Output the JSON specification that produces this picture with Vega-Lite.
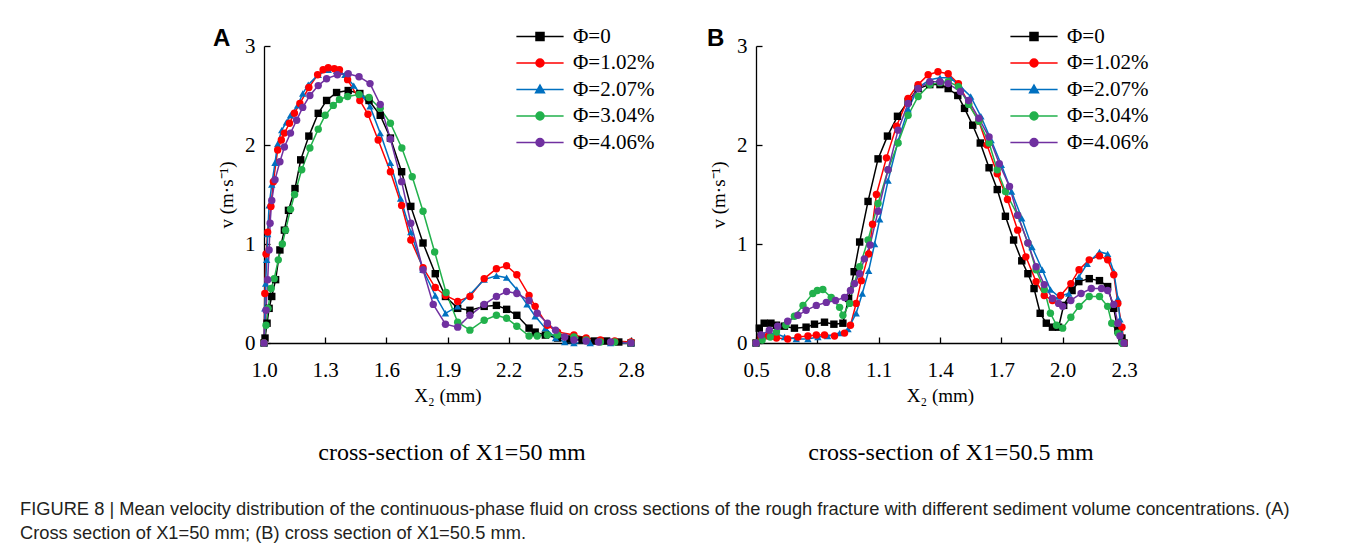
{
"$schema": "https://vega.github.io/schema/vega-lite/v6.json",
"background": "white",
"padding": {"left": 20, "top": 26, "right": 5, "bottom": 5},
"spacing": 52,
"title": {"text": ["FIGURE 8 | Mean velocity distribution of the continuous-phase fluid on cross sections of the rough fracture with different sediment volume concentrations. (A)", "Cross section of X1=50 mm; (B) cross section of X1=50.5 mm."], "orient": "bottom", "anchor": "start", "frame": "bounds", "font": "Liberation Sans", "fontSize": 18.3, "fontWeight": "normal", "color": "#231f20", "lineHeight": 24, "offset": 36, "dx": -193},
"resolve": {"scale": {"color": "independent", "shape": "independent"}, "legend": {"color": "independent", "shape": "independent"}},
"hconcat": [
{
 "title": {"text": "cross-section of X1=50 mm", "orient": "bottom", "anchor": "middle", "frame": "bounds", "font": "Liberation Serif", "fontSize": 24, "fontWeight": "normal", "color": "black", "offset": 36, "dx": 18},
 "vconcat": [{
  "width": 367, "height": 297,
  "title": {"text": "A", "anchor": "start", "frame": "group", "font": "Liberation Sans", "fontSize": 24, "fontWeight": "bold", "color": "black", "dx": -51, "offset": 0, "dy": 16},
  "data": {"name": "A"},
  "encoding": {
   "x": {"field": "x", "type": "quantitative", "scale": {"domain": [1.0, 2.8], "nice": false, "zero": false}, "axis": {"values": [1.0, 1.3, 1.6, 1.9, 2.2, 2.5, 2.8], "format": ".1f", "title": "X₂ (mm)"}},
   "y": {"field": "y", "type": "quantitative", "scale": {"domain": [0, 3], "nice": false}, "axis": {"values": [0, 1, 2, 3], "format": "d", "title": "v (m·s⁻¹)"}},
   "color": {"field": "s", "type": "nominal", "scale": {"domain": ["Φ=0", "Φ=1.02%", "Φ=2.07%", "Φ=3.04%", "Φ=4.06%"], "range": ["#000000", "#ff0000", "#0070c0", "#22b14c", "#7030a0"]},
    "legend": {"orient": "none", "legendX": 252, "legendY": -20, "title": null, "labelFont": "Liberation Serif", "labelFontSize": 21, "labelColor": "black", "symbolSize": 64, "symbolOffset": 13.5, "labelOffset": 22.5, "rowPadding": 4.5, "padding": 0, "symbolStrokeWidth": 1.5, "symbolOpacity": 1}}
  },
  "layer": [
   {"mark": {"type": "line", "strokeWidth": 1.5}},
   {"transform": [{"filter": "datum.s === 'Φ=0'"}], "mark": {"type": "point", "shape": "square", "filled": true, "opacity": 1, "size": 55}},
   {"transform": [{"filter": "datum.s === 'Φ=2.07%'"}], "mark": {"type": "point", "shape": "triangle-up", "filled": true, "opacity": 1, "size": 55}},
   {"transform": [{"filter": "datum.s !== 'Φ=0' && datum.s !== 'Φ=2.07%'"}], "mark": {"type": "point", "shape": "circle", "filled": true, "opacity": 1, "size": 55}},
   {"transform": [{"filter": "false"}], "mark": {"type": "point", "filled": true, "opacity": 1, "size": 55},
    "encoding": {
     "shape": {"field": "s", "type": "nominal", "scale": {"domain": ["Φ=0", "Φ=1.02%", "Φ=2.07%", "Φ=3.04%", "Φ=4.06%"], "range": ["M-5.9,0H5.9M-1,-1H1V1H-1ZM-1,-0.5H1M-1,0.5H1", "M-5.9,0H5.9M1,0A1,1 0 1,1 -1,0A1,1 0 1,1 1,0ZM-0.8,-0.5H0.8M-0.8,0.5H0.8", "M-5.9,0H5.9M0,-1.1L1.1,0.8L-1.1,0.8ZM-0.55,-0.1H0.55M-0.85,0.4H0.85", "M-5.9,0H5.9M1,0A1,1 0 1,1 -1,0A1,1 0 1,1 1,0ZM-0.8,-0.5H0.8M-0.8,0.5H0.8", "M-5.9,0H5.9M1,0A1,1 0 1,1 -1,0A1,1 0 1,1 1,0ZM-0.8,-0.5H0.8M-0.8,0.5H0.8"]},
      "legend": {"orient": "none", "legendX": 252, "legendY": -20, "title": null, "labelFont": "Liberation Serif", "labelFontSize": 21, "labelColor": "black", "symbolSize": 64, "symbolOffset": 13.5, "labelOffset": 22.5, "rowPadding": 4.5, "padding": 0, "symbolStrokeWidth": 1.5, "symbolOpacity": 1}}
    }}
  ]
 }]
},
{
 "title": {"text": "cross-section of X1=50.5 mm", "orient": "bottom", "anchor": "middle", "frame": "bounds", "font": "Liberation Serif", "fontSize": 24, "fontWeight": "normal", "color": "black", "offset": 36, "dx": 23},
 "vconcat": [{
  "width": 368, "height": 297,
  "title": {"text": "B", "anchor": "start", "frame": "group", "font": "Liberation Sans", "fontSize": 24, "fontWeight": "bold", "color": "black", "dx": -49, "offset": 0, "dy": 16},
  "data": {"name": "B"},
  "encoding": {
   "x": {"field": "x", "type": "quantitative", "scale": {"domain": [0.5, 2.3], "nice": false, "zero": false}, "axis": {"values": [0.5, 0.8, 1.1, 1.4, 1.7, 2.0, 2.3], "format": ".1f", "title": "X₂ (mm)"}},
   "y": {"field": "y", "type": "quantitative", "scale": {"domain": [0, 3], "nice": false}, "axis": {"values": [0, 1, 2, 3], "format": "d", "title": "v (m·s⁻¹)"}},
   "color": {"field": "s", "type": "nominal", "scale": {"domain": ["Φ=0", "Φ=1.02%", "Φ=2.07%", "Φ=3.04%", "Φ=4.06%"], "range": ["#000000", "#ff0000", "#0070c0", "#22b14c", "#7030a0"]},
    "legend": {"orient": "none", "legendX": 254, "legendY": -20, "title": null, "labelFont": "Liberation Serif", "labelFontSize": 21, "labelColor": "black", "symbolSize": 64, "symbolOffset": 13.5, "labelOffset": 22.5, "rowPadding": 4.5, "padding": 0, "symbolStrokeWidth": 1.5, "symbolOpacity": 1}}
  },
  "layer": [
   {"mark": {"type": "line", "strokeWidth": 1.5}},
   {"transform": [{"filter": "datum.s === 'Φ=0'"}], "mark": {"type": "point", "shape": "square", "filled": true, "opacity": 1, "size": 55}},
   {"transform": [{"filter": "datum.s === 'Φ=2.07%'"}], "mark": {"type": "point", "shape": "triangle-up", "filled": true, "opacity": 1, "size": 55}},
   {"transform": [{"filter": "datum.s !== 'Φ=0' && datum.s !== 'Φ=2.07%'"}], "mark": {"type": "point", "shape": "circle", "filled": true, "opacity": 1, "size": 55}},
   {"transform": [{"filter": "false"}], "mark": {"type": "point", "filled": true, "opacity": 1, "size": 55},
    "encoding": {
     "shape": {"field": "s", "type": "nominal", "scale": {"domain": ["Φ=0", "Φ=1.02%", "Φ=2.07%", "Φ=3.04%", "Φ=4.06%"], "range": ["M-5.9,0H5.9M-1,-1H1V1H-1ZM-1,-0.5H1M-1,0.5H1", "M-5.9,0H5.9M1,0A1,1 0 1,1 -1,0A1,1 0 1,1 1,0ZM-0.8,-0.5H0.8M-0.8,0.5H0.8", "M-5.9,0H5.9M0,-1.1L1.1,0.8L-1.1,0.8ZM-0.55,-0.1H0.55M-0.85,0.4H0.85", "M-5.9,0H5.9M1,0A1,1 0 1,1 -1,0A1,1 0 1,1 1,0ZM-0.8,-0.5H0.8M-0.8,0.5H0.8", "M-5.9,0H5.9M1,0A1,1 0 1,1 -1,0A1,1 0 1,1 1,0ZM-0.8,-0.5H0.8M-0.8,0.5H0.8"]},
      "legend": {"orient": "none", "legendX": 254, "legendY": -20, "title": null, "labelFont": "Liberation Serif", "labelFontSize": 21, "labelColor": "black", "symbolSize": 64, "symbolOffset": 13.5, "labelOffset": 22.5, "rowPadding": 4.5, "padding": 0, "symbolStrokeWidth": 1.5, "symbolOpacity": 1}}
    }}
  ]
 }]
}
],
"config": {
 "view": {"stroke": null},
 "axis": {"labelFont": "Liberation Serif", "labelFontSize": 21, "labelColor": "black", "labelFlush": false, "titleFont": "Liberation Serif", "titleFontSize": 19, "titleFontWeight": "normal", "titleColor": "black", "domainColor": "black", "tickColor": "black", "domainWidth": 1.3, "tickWidth": 1.3, "grid": false, "tickSize": -6},
 "axisX": {"labelPadding": 22, "titlePadding": 6},
 "axisY": {"labelPadding": 15, "titlePadding": 8}
},
"datasets": {
"A": [
{"s":"Φ=0","x":1.0,"y":0},{"s":"Φ=0","x":1.005,"y":0.05},{"s":"Φ=0","x":1.015,"y":0.2},{"s":"Φ=0","x":1.025,"y":0.35},{"s":"Φ=0","x":1.038,"y":0.47},{"s":"Φ=0","x":1.057,"y":0.64},{"s":"Φ=0","x":1.078,"y":0.94},{"s":"Φ=0","x":1.1,"y":1.14},{"s":"Φ=0","x":1.12,"y":1.34},{"s":"Φ=0","x":1.152,"y":1.56},{"s":"Φ=0","x":1.18,"y":1.85},{"s":"Φ=0","x":1.22,"y":2.09},{"s":"Φ=0","x":1.266,"y":2.32},{"s":"Φ=0","x":1.307,"y":2.45},{"s":"Φ=0","x":1.356,"y":2.53},{"s":"Φ=0","x":1.413,"y":2.55},{"s":"Φ=0","x":1.47,"y":2.52},{"s":"Φ=0","x":1.515,"y":2.45},{"s":"Φ=0","x":1.57,"y":2.3},{"s":"Φ=0","x":1.62,"y":2.07},{"s":"Φ=0","x":1.675,"y":1.73},{"s":"Φ=0","x":1.72,"y":1.38},{"s":"Φ=0","x":1.78,"y":1.01},{"s":"Φ=0","x":1.84,"y":0.7},{"s":"Φ=0","x":1.89,"y":0.47},{"s":"Φ=0","x":1.95,"y":0.35},{"s":"Φ=0","x":2.01,"y":0.33},{"s":"Φ=0","x":2.08,"y":0.37},{"s":"Φ=0","x":2.14,"y":0.38},{"s":"Φ=0","x":2.19,"y":0.34},{"s":"Φ=0","x":2.24,"y":0.28},{"s":"Φ=0","x":2.3,"y":0.15},{"s":"Φ=0","x":2.33,"y":0.11},{"s":"Φ=0","x":2.38,"y":0.08},{"s":"Φ=0","x":2.44,"y":0.05},{"s":"Φ=0","x":2.5,"y":0.04},{"s":"Φ=0","x":2.56,"y":0.03},{"s":"Φ=0","x":2.62,"y":0.02},{"s":"Φ=0","x":2.68,"y":0.02},{"s":"Φ=0","x":2.74,"y":0.01},{"s":"Φ=0","x":2.8,"y":0},
{"s":"Φ=1.02%","x":1.0,"y":0},{"s":"Φ=1.02%","x":1.004,"y":0.5},{"s":"Φ=1.02%","x":1.01,"y":0.9},{"s":"Φ=1.02%","x":1.018,"y":1.12},{"s":"Φ=1.02%","x":1.034,"y":1.38},{"s":"Φ=1.02%","x":1.046,"y":1.63},{"s":"Φ=1.02%","x":1.067,"y":1.95},{"s":"Φ=1.02%","x":1.085,"y":2.05},{"s":"Φ=1.02%","x":1.1,"y":2.12},{"s":"Φ=1.02%","x":1.125,"y":2.22},{"s":"Φ=1.02%","x":1.149,"y":2.32},{"s":"Φ=1.02%","x":1.176,"y":2.42},{"s":"Φ=1.02%","x":1.22,"y":2.58},{"s":"Φ=1.02%","x":1.263,"y":2.71},{"s":"Φ=1.02%","x":1.29,"y":2.76},{"s":"Φ=1.02%","x":1.315,"y":2.78},{"s":"Φ=1.02%","x":1.345,"y":2.77},{"s":"Φ=1.02%","x":1.37,"y":2.76},{"s":"Φ=1.02%","x":1.41,"y":2.66},{"s":"Φ=1.02%","x":1.47,"y":2.45},{"s":"Φ=1.02%","x":1.51,"y":2.31},{"s":"Φ=1.02%","x":1.56,"y":2.05},{"s":"Φ=1.02%","x":1.62,"y":1.73},{"s":"Φ=1.02%","x":1.675,"y":1.39},{"s":"Φ=1.02%","x":1.72,"y":1.04},{"s":"Φ=1.02%","x":1.78,"y":0.76},{"s":"Φ=1.02%","x":1.84,"y":0.56},{"s":"Φ=1.02%","x":1.89,"y":0.48},{"s":"Φ=1.02%","x":1.95,"y":0.42},{"s":"Φ=1.02%","x":2.01,"y":0.47},{"s":"Φ=1.02%","x":2.08,"y":0.65},{"s":"Φ=1.02%","x":2.14,"y":0.75},{"s":"Φ=1.02%","x":2.19,"y":0.78},{"s":"Φ=1.02%","x":2.24,"y":0.69},{"s":"Φ=1.02%","x":2.3,"y":0.48},{"s":"Φ=1.02%","x":2.33,"y":0.37},{"s":"Φ=1.02%","x":2.39,"y":0.18},{"s":"Φ=1.02%","x":2.44,"y":0.11},{"s":"Φ=1.02%","x":2.52,"y":0.08},{"s":"Φ=1.02%","x":2.58,"y":0.05},{"s":"Φ=1.02%","x":2.65,"y":0.03},{"s":"Φ=1.02%","x":2.72,"y":0.02},{"s":"Φ=1.02%","x":2.8,"y":0.01},
{"s":"Φ=2.07%","x":1.0,"y":0},{"s":"Φ=2.07%","x":1.004,"y":0.35},{"s":"Φ=2.07%","x":1.008,"y":0.6},{"s":"Φ=2.07%","x":1.013,"y":0.84},{"s":"Φ=2.07%","x":1.018,"y":1.1},{"s":"Φ=2.07%","x":1.025,"y":1.39},{"s":"Φ=2.07%","x":1.038,"y":1.6},{"s":"Φ=2.07%","x":1.054,"y":1.82},{"s":"Φ=2.07%","x":1.067,"y":2.01},{"s":"Φ=2.07%","x":1.087,"y":2.15},{"s":"Φ=2.07%","x":1.11,"y":2.23},{"s":"Φ=2.07%","x":1.13,"y":2.3},{"s":"Φ=2.07%","x":1.165,"y":2.4},{"s":"Φ=2.07%","x":1.19,"y":2.52},{"s":"Φ=2.07%","x":1.217,"y":2.61},{"s":"Φ=2.07%","x":1.266,"y":2.71},{"s":"Φ=2.07%","x":1.315,"y":2.76},{"s":"Φ=2.07%","x":1.356,"y":2.75},{"s":"Φ=2.07%","x":1.397,"y":2.71},{"s":"Φ=2.07%","x":1.44,"y":2.6},{"s":"Φ=2.07%","x":1.48,"y":2.5},{"s":"Φ=2.07%","x":1.52,"y":2.39},{"s":"Φ=2.07%","x":1.57,"y":2.12},{"s":"Φ=2.07%","x":1.62,"y":1.82},{"s":"Φ=2.07%","x":1.67,"y":1.46},{"s":"Φ=2.07%","x":1.72,"y":1.12},{"s":"Φ=2.07%","x":1.78,"y":0.74},{"s":"Φ=2.07%","x":1.84,"y":0.48},{"s":"Φ=2.07%","x":1.89,"y":0.3},{"s":"Φ=2.07%","x":1.95,"y":0.37},{"s":"Φ=2.07%","x":2.01,"y":0.49},{"s":"Φ=2.07%","x":2.08,"y":0.64},{"s":"Φ=2.07%","x":2.14,"y":0.68},{"s":"Φ=2.07%","x":2.19,"y":0.66},{"s":"Φ=2.07%","x":2.24,"y":0.54},{"s":"Φ=2.07%","x":2.29,"y":0.39},{"s":"Φ=2.07%","x":2.33,"y":0.27},{"s":"Φ=2.07%","x":2.38,"y":0.15},{"s":"Φ=2.07%","x":2.43,"y":0.05},{"s":"Φ=2.07%","x":2.475,"y":0.01},{"s":"Φ=2.07%","x":2.52,"y":0},{"s":"Φ=2.07%","x":2.6,"y":0},{"s":"Φ=2.07%","x":2.7,"y":0},{"s":"Φ=2.07%","x":2.8,"y":0},
{"s":"Φ=3.04%","x":1.0,"y":0},{"s":"Φ=3.04%","x":1.01,"y":0.18},{"s":"Φ=3.04%","x":1.02,"y":0.35},{"s":"Φ=3.04%","x":1.035,"y":0.55},{"s":"Φ=3.04%","x":1.05,"y":0.65},{"s":"Φ=3.04%","x":1.07,"y":0.84},{"s":"Φ=3.04%","x":1.09,"y":1.0},{"s":"Φ=3.04%","x":1.106,"y":1.14},{"s":"Φ=3.04%","x":1.13,"y":1.35},{"s":"Φ=3.04%","x":1.15,"y":1.5},{"s":"Φ=3.04%","x":1.185,"y":1.75},{"s":"Φ=3.04%","x":1.225,"y":1.97},{"s":"Φ=3.04%","x":1.266,"y":2.16},{"s":"Φ=3.04%","x":1.3,"y":2.3},{"s":"Φ=3.04%","x":1.34,"y":2.4},{"s":"Φ=3.04%","x":1.37,"y":2.46},{"s":"Φ=3.04%","x":1.41,"y":2.49},{"s":"Φ=3.04%","x":1.466,"y":2.51},{"s":"Φ=3.04%","x":1.515,"y":2.48},{"s":"Φ=3.04%","x":1.57,"y":2.37},{"s":"Φ=3.04%","x":1.62,"y":2.22},{"s":"Φ=3.04%","x":1.676,"y":1.97},{"s":"Φ=3.04%","x":1.727,"y":1.68},{"s":"Φ=3.04%","x":1.78,"y":1.33},{"s":"Φ=3.04%","x":1.837,"y":0.92},{"s":"Φ=3.04%","x":1.893,"y":0.51},{"s":"Φ=3.04%","x":1.95,"y":0.21},{"s":"Φ=3.04%","x":2.01,"y":0.13},{"s":"Φ=3.04%","x":2.08,"y":0.23},{"s":"Φ=3.04%","x":2.14,"y":0.28},{"s":"Φ=3.04%","x":2.19,"y":0.25},{"s":"Φ=3.04%","x":2.24,"y":0.17},{"s":"Φ=3.04%","x":2.3,"y":0.07},{"s":"Φ=3.04%","x":2.34,"y":0.07},{"s":"Φ=3.04%","x":2.39,"y":0.08},{"s":"Φ=3.04%","x":2.44,"y":0.08},{"s":"Φ=3.04%","x":2.52,"y":0.06},{"s":"Φ=3.04%","x":2.58,"y":0.03},{"s":"Φ=3.04%","x":2.65,"y":0.01},{"s":"Φ=3.04%","x":2.72,"y":0.01},{"s":"Φ=3.04%","x":2.8,"y":0},
{"s":"Φ=4.06%","x":1.0,"y":0},{"s":"Φ=4.06%","x":1.01,"y":0.33},{"s":"Φ=4.06%","x":1.018,"y":0.64},{"s":"Φ=4.06%","x":1.025,"y":0.94},{"s":"Φ=4.06%","x":1.03,"y":1.21},{"s":"Φ=4.06%","x":1.038,"y":1.44},{"s":"Φ=4.06%","x":1.054,"y":1.65},{"s":"Φ=4.06%","x":1.078,"y":1.83},{"s":"Φ=4.06%","x":1.1,"y":1.98},{"s":"Φ=4.06%","x":1.13,"y":2.12},{"s":"Φ=4.06%","x":1.16,"y":2.25},{"s":"Φ=4.06%","x":1.19,"y":2.38},{"s":"Φ=4.06%","x":1.225,"y":2.5},{"s":"Φ=4.06%","x":1.266,"y":2.6},{"s":"Φ=4.06%","x":1.307,"y":2.67},{"s":"Φ=4.06%","x":1.36,"y":2.71},{"s":"Φ=4.06%","x":1.413,"y":2.72},{"s":"Φ=4.06%","x":1.466,"y":2.69},{"s":"Φ=4.06%","x":1.52,"y":2.62},{"s":"Φ=4.06%","x":1.57,"y":2.41},{"s":"Φ=4.06%","x":1.62,"y":2.06},{"s":"Φ=4.06%","x":1.675,"y":1.63},{"s":"Φ=4.06%","x":1.72,"y":1.21},{"s":"Φ=4.06%","x":1.78,"y":0.74},{"s":"Φ=4.06%","x":1.83,"y":0.39},{"s":"Φ=4.06%","x":1.89,"y":0.19},{"s":"Φ=4.06%","x":1.95,"y":0.16},{"s":"Φ=4.06%","x":2.01,"y":0.28},{"s":"Φ=4.06%","x":2.08,"y":0.39},{"s":"Φ=4.06%","x":2.14,"y":0.47},{"s":"Φ=4.06%","x":2.19,"y":0.52},{"s":"Φ=4.06%","x":2.24,"y":0.5},{"s":"Φ=4.06%","x":2.3,"y":0.43},{"s":"Φ=4.06%","x":2.34,"y":0.3},{"s":"Φ=4.06%","x":2.39,"y":0.2},{"s":"Φ=4.06%","x":2.43,"y":0.13},{"s":"Φ=4.06%","x":2.475,"y":0.06},{"s":"Φ=4.06%","x":2.52,"y":0.03},{"s":"Φ=4.06%","x":2.58,"y":0.02},{"s":"Φ=4.06%","x":2.64,"y":0.01},{"s":"Φ=4.06%","x":2.7,"y":0.01},{"s":"Φ=4.06%","x":2.8,"y":0}
],
"B": [
{"s":"Φ=0","x":0.5,"y":0},{"s":"Φ=0","x":0.516,"y":0.15},{"s":"Φ=0","x":0.54,"y":0.2},{"s":"Φ=0","x":0.573,"y":0.2},{"s":"Φ=0","x":0.6,"y":0.18},{"s":"Φ=0","x":0.639,"y":0.17},{"s":"Φ=0","x":0.688,"y":0.15},{"s":"Φ=0","x":0.745,"y":0.16},{"s":"Φ=0","x":0.786,"y":0.19},{"s":"Φ=0","x":0.835,"y":0.21},{"s":"Φ=0","x":0.881,"y":0.19},{"s":"Φ=0","x":0.925,"y":0.2},{"s":"Φ=0","x":0.953,"y":0.45},{"s":"Φ=0","x":0.98,"y":0.72},{"s":"Φ=0","x":1.007,"y":1.02},{"s":"Φ=0","x":1.048,"y":1.43},{"s":"Φ=0","x":1.097,"y":1.86},{"s":"Φ=0","x":1.143,"y":2.09},{"s":"Φ=0","x":1.192,"y":2.29},{"s":"Φ=0","x":1.244,"y":2.44},{"s":"Φ=0","x":1.293,"y":2.57},{"s":"Φ=0","x":1.35,"y":2.61},{"s":"Φ=0","x":1.4,"y":2.61},{"s":"Φ=0","x":1.44,"y":2.57},{"s":"Φ=0","x":1.487,"y":2.5},{"s":"Φ=0","x":1.52,"y":2.37},{"s":"Φ=0","x":1.56,"y":2.2},{"s":"Φ=0","x":1.597,"y":2.02},{"s":"Φ=0","x":1.64,"y":1.77},{"s":"Φ=0","x":1.68,"y":1.55},{"s":"Φ=0","x":1.72,"y":1.28},{"s":"Φ=0","x":1.76,"y":1.04},{"s":"Φ=0","x":1.8,"y":0.83},{"s":"Φ=0","x":1.83,"y":0.7},{"s":"Φ=0","x":1.86,"y":0.55},{"s":"Φ=0","x":1.89,"y":0.3},{"s":"Φ=0","x":1.92,"y":0.2},{"s":"Φ=0","x":1.95,"y":0.16},{"s":"Φ=0","x":1.98,"y":0.16},{"s":"Φ=0","x":2.005,"y":0.38},{"s":"Φ=0","x":2.046,"y":0.53},{"s":"Φ=0","x":2.079,"y":0.62},{"s":"Φ=0","x":2.13,"y":0.65},{"s":"Φ=0","x":2.18,"y":0.63},{"s":"Φ=0","x":2.22,"y":0.57},{"s":"Φ=0","x":2.25,"y":0.35},{"s":"Φ=0","x":2.27,"y":0.13},{"s":"Φ=0","x":2.29,"y":0.05},{"s":"Φ=0","x":2.3,"y":0},
{"s":"Φ=1.02%","x":0.5,"y":0},{"s":"Φ=1.02%","x":0.525,"y":0.06},{"s":"Φ=1.02%","x":0.56,"y":0.07},{"s":"Φ=1.02%","x":0.6,"y":0.05},{"s":"Φ=1.02%","x":0.655,"y":0.04},{"s":"Φ=1.02%","x":0.705,"y":0.06},{"s":"Φ=1.02%","x":0.754,"y":0.07},{"s":"Φ=1.02%","x":0.795,"y":0.08},{"s":"Φ=1.02%","x":0.835,"y":0.08},{"s":"Φ=1.02%","x":0.884,"y":0.07},{"s":"Φ=1.02%","x":0.933,"y":0.1},{"s":"Φ=1.02%","x":0.962,"y":0.18},{"s":"Φ=1.02%","x":0.99,"y":0.4},{"s":"Φ=1.02%","x":1.015,"y":0.63},{"s":"Φ=1.02%","x":1.051,"y":0.9},{"s":"Φ=1.02%","x":1.07,"y":1.2},{"s":"Φ=1.02%","x":1.089,"y":1.5},{"s":"Φ=1.02%","x":1.138,"y":1.87},{"s":"Φ=1.02%","x":1.187,"y":2.19},{"s":"Φ=1.02%","x":1.244,"y":2.47},{"s":"Φ=1.02%","x":1.293,"y":2.61},{"s":"Φ=1.02%","x":1.342,"y":2.71},{"s":"Φ=1.02%","x":1.39,"y":2.74},{"s":"Φ=1.02%","x":1.44,"y":2.72},{"s":"Φ=1.02%","x":1.49,"y":2.62},{"s":"Φ=1.02%","x":1.54,"y":2.42},{"s":"Φ=1.02%","x":1.59,"y":2.24},{"s":"Φ=1.02%","x":1.63,"y":2.0},{"s":"Φ=1.02%","x":1.68,"y":1.71},{"s":"Φ=1.02%","x":1.73,"y":1.45},{"s":"Φ=1.02%","x":1.78,"y":1.14},{"s":"Φ=1.02%","x":1.82,"y":0.87},{"s":"Φ=1.02%","x":1.87,"y":0.62},{"s":"Φ=1.02%","x":1.91,"y":0.48},{"s":"Φ=1.02%","x":1.95,"y":0.43},{"s":"Φ=1.02%","x":1.99,"y":0.48},{"s":"Φ=1.02%","x":2.04,"y":0.6},{"s":"Φ=1.02%","x":2.08,"y":0.74},{"s":"Φ=1.02%","x":2.13,"y":0.84},{"s":"Φ=1.02%","x":2.18,"y":0.88},{"s":"Φ=1.02%","x":2.22,"y":0.84},{"s":"Φ=1.02%","x":2.25,"y":0.69},{"s":"Φ=1.02%","x":2.27,"y":0.4},{"s":"Φ=1.02%","x":2.29,"y":0.16},{"s":"Φ=1.02%","x":2.3,"y":0},
{"s":"Φ=2.07%","x":0.5,"y":0},{"s":"Φ=2.07%","x":0.54,"y":0.08},{"s":"Φ=2.07%","x":0.59,"y":0.1},{"s":"Φ=2.07%","x":0.64,"y":0.06},{"s":"Φ=2.07%","x":0.697,"y":0.04},{"s":"Φ=2.07%","x":0.754,"y":0.04},{"s":"Φ=2.07%","x":0.803,"y":0.06},{"s":"Φ=2.07%","x":0.85,"y":0.07},{"s":"Φ=2.07%","x":0.909,"y":0.1},{"s":"Φ=2.07%","x":0.95,"y":0.14},{"s":"Φ=2.07%","x":0.99,"y":0.3},{"s":"Φ=2.07%","x":1.02,"y":0.5},{"s":"Φ=2.07%","x":1.051,"y":0.73},{"s":"Φ=2.07%","x":1.08,"y":1.0},{"s":"Φ=2.07%","x":1.105,"y":1.25},{"s":"Φ=2.07%","x":1.146,"y":1.64},{"s":"Φ=2.07%","x":1.195,"y":2.04},{"s":"Φ=2.07%","x":1.244,"y":2.36},{"s":"Φ=2.07%","x":1.293,"y":2.58},{"s":"Φ=2.07%","x":1.35,"y":2.66},{"s":"Φ=2.07%","x":1.4,"y":2.68},{"s":"Φ=2.07%","x":1.45,"y":2.68},{"s":"Φ=2.07%","x":1.5,"y":2.59},{"s":"Φ=2.07%","x":1.55,"y":2.49},{"s":"Φ=2.07%","x":1.6,"y":2.29},{"s":"Φ=2.07%","x":1.65,"y":2.05},{"s":"Φ=2.07%","x":1.7,"y":1.8},{"s":"Φ=2.07%","x":1.75,"y":1.53},{"s":"Φ=2.07%","x":1.8,"y":1.26},{"s":"Φ=2.07%","x":1.85,"y":0.97},{"s":"Φ=2.07%","x":1.9,"y":0.74},{"s":"Φ=2.07%","x":1.94,"y":0.54},{"s":"Φ=2.07%","x":1.98,"y":0.47},{"s":"Φ=2.07%","x":2.03,"y":0.5},{"s":"Φ=2.07%","x":2.08,"y":0.67},{"s":"Φ=2.07%","x":2.12,"y":0.8},{"s":"Φ=2.07%","x":2.18,"y":0.92},{"s":"Φ=2.07%","x":2.22,"y":0.9},{"s":"Φ=2.07%","x":2.25,"y":0.72},{"s":"Φ=2.07%","x":2.27,"y":0.45},{"s":"Φ=2.07%","x":2.28,"y":0.24},{"s":"Φ=2.07%","x":2.3,"y":0},
{"s":"Φ=3.04%","x":0.5,"y":0},{"s":"Φ=3.04%","x":0.53,"y":0.03},{"s":"Φ=3.04%","x":0.57,"y":0.06},{"s":"Φ=3.04%","x":0.6,"y":0.11},{"s":"Φ=3.04%","x":0.646,"y":0.18},{"s":"Φ=3.04%","x":0.688,"y":0.27},{"s":"Φ=3.04%","x":0.73,"y":0.38},{"s":"Φ=3.04%","x":0.778,"y":0.5},{"s":"Φ=3.04%","x":0.8,"y":0.53},{"s":"Φ=3.04%","x":0.827,"y":0.54},{"s":"Φ=3.04%","x":0.868,"y":0.46},{"s":"Φ=3.04%","x":0.909,"y":0.36},{"s":"Φ=3.04%","x":0.925,"y":0.28},{"s":"Φ=3.04%","x":0.958,"y":0.4},{"s":"Φ=3.04%","x":0.98,"y":0.6},{"s":"Φ=3.04%","x":1.007,"y":0.77},{"s":"Φ=3.04%","x":1.048,"y":1.04},{"s":"Φ=3.04%","x":1.097,"y":1.41},{"s":"Φ=3.04%","x":1.146,"y":1.75},{"s":"Φ=3.04%","x":1.195,"y":2.02},{"s":"Φ=3.04%","x":1.244,"y":2.3},{"s":"Φ=3.04%","x":1.293,"y":2.49},{"s":"Φ=3.04%","x":1.35,"y":2.61},{"s":"Φ=3.04%","x":1.4,"y":2.63},{"s":"Φ=3.04%","x":1.44,"y":2.64},{"s":"Φ=3.04%","x":1.49,"y":2.59},{"s":"Φ=3.04%","x":1.54,"y":2.41},{"s":"Φ=3.04%","x":1.59,"y":2.24},{"s":"Φ=3.04%","x":1.64,"y":2.02},{"s":"Φ=3.04%","x":1.68,"y":1.75},{"s":"Φ=3.04%","x":1.72,"y":1.53},{"s":"Φ=3.04%","x":1.78,"y":1.29},{"s":"Φ=3.04%","x":1.83,"y":1.01},{"s":"Φ=3.04%","x":1.87,"y":0.74},{"s":"Φ=3.04%","x":1.91,"y":0.54},{"s":"Φ=3.04%","x":1.94,"y":0.3},{"s":"Φ=3.04%","x":1.97,"y":0.18},{"s":"Φ=3.04%","x":2.0,"y":0.15},{"s":"Φ=3.04%","x":2.04,"y":0.26},{"s":"Φ=3.04%","x":2.08,"y":0.37},{"s":"Φ=3.04%","x":2.13,"y":0.47},{"s":"Φ=3.04%","x":2.18,"y":0.47},{"s":"Φ=3.04%","x":2.22,"y":0.37},{"s":"Φ=3.04%","x":2.24,"y":0.2},{"s":"Φ=3.04%","x":2.27,"y":0.1},{"s":"Φ=3.04%","x":2.29,"y":0},
{"s":"Φ=4.06%","x":0.5,"y":0},{"s":"Φ=4.06%","x":0.525,"y":0.08},{"s":"Φ=4.06%","x":0.565,"y":0.13},{"s":"Φ=4.06%","x":0.606,"y":0.17},{"s":"Φ=4.06%","x":0.655,"y":0.22},{"s":"Φ=4.06%","x":0.705,"y":0.28},{"s":"Φ=4.06%","x":0.745,"y":0.33},{"s":"Φ=4.06%","x":0.795,"y":0.38},{"s":"Φ=4.06%","x":0.844,"y":0.41},{"s":"Φ=4.06%","x":0.889,"y":0.43},{"s":"Φ=4.06%","x":0.933,"y":0.46},{"s":"Φ=4.06%","x":0.962,"y":0.53},{"s":"Φ=4.06%","x":0.982,"y":0.6},{"s":"Φ=4.06%","x":1.007,"y":0.7},{"s":"Φ=4.06%","x":1.03,"y":0.85},{"s":"Φ=4.06%","x":1.058,"y":0.99},{"s":"Φ=4.06%","x":1.097,"y":1.33},{"s":"Φ=4.06%","x":1.146,"y":1.75},{"s":"Φ=4.06%","x":1.195,"y":2.15},{"s":"Φ=4.06%","x":1.244,"y":2.42},{"s":"Φ=4.06%","x":1.293,"y":2.57},{"s":"Φ=4.06%","x":1.35,"y":2.64},{"s":"Φ=4.06%","x":1.4,"y":2.64},{"s":"Φ=4.06%","x":1.44,"y":2.62},{"s":"Φ=4.06%","x":1.5,"y":2.54},{"s":"Φ=4.06%","x":1.54,"y":2.45},{"s":"Φ=4.06%","x":1.59,"y":2.27},{"s":"Φ=4.06%","x":1.64,"y":2.08},{"s":"Φ=4.06%","x":1.69,"y":1.81},{"s":"Φ=4.06%","x":1.74,"y":1.58},{"s":"Φ=4.06%","x":1.78,"y":1.29},{"s":"Φ=4.06%","x":1.83,"y":1.01},{"s":"Φ=4.06%","x":1.87,"y":0.77},{"s":"Φ=4.06%","x":1.91,"y":0.59},{"s":"Φ=4.06%","x":1.95,"y":0.45},{"s":"Φ=4.06%","x":1.98,"y":0.4},{"s":"Φ=4.06%","x":2.0,"y":0.37},{"s":"Φ=4.06%","x":2.04,"y":0.43},{"s":"Φ=4.06%","x":2.09,"y":0.5},{"s":"Φ=4.06%","x":2.14,"y":0.55},{"s":"Φ=4.06%","x":2.19,"y":0.55},{"s":"Φ=4.06%","x":2.22,"y":0.53},{"s":"Φ=4.06%","x":2.25,"y":0.39},{"s":"Φ=4.06%","x":2.27,"y":0.2},{"s":"Φ=4.06%","x":2.28,"y":0.07},{"s":"Φ=4.06%","x":2.3,"y":0}
]
}
}
